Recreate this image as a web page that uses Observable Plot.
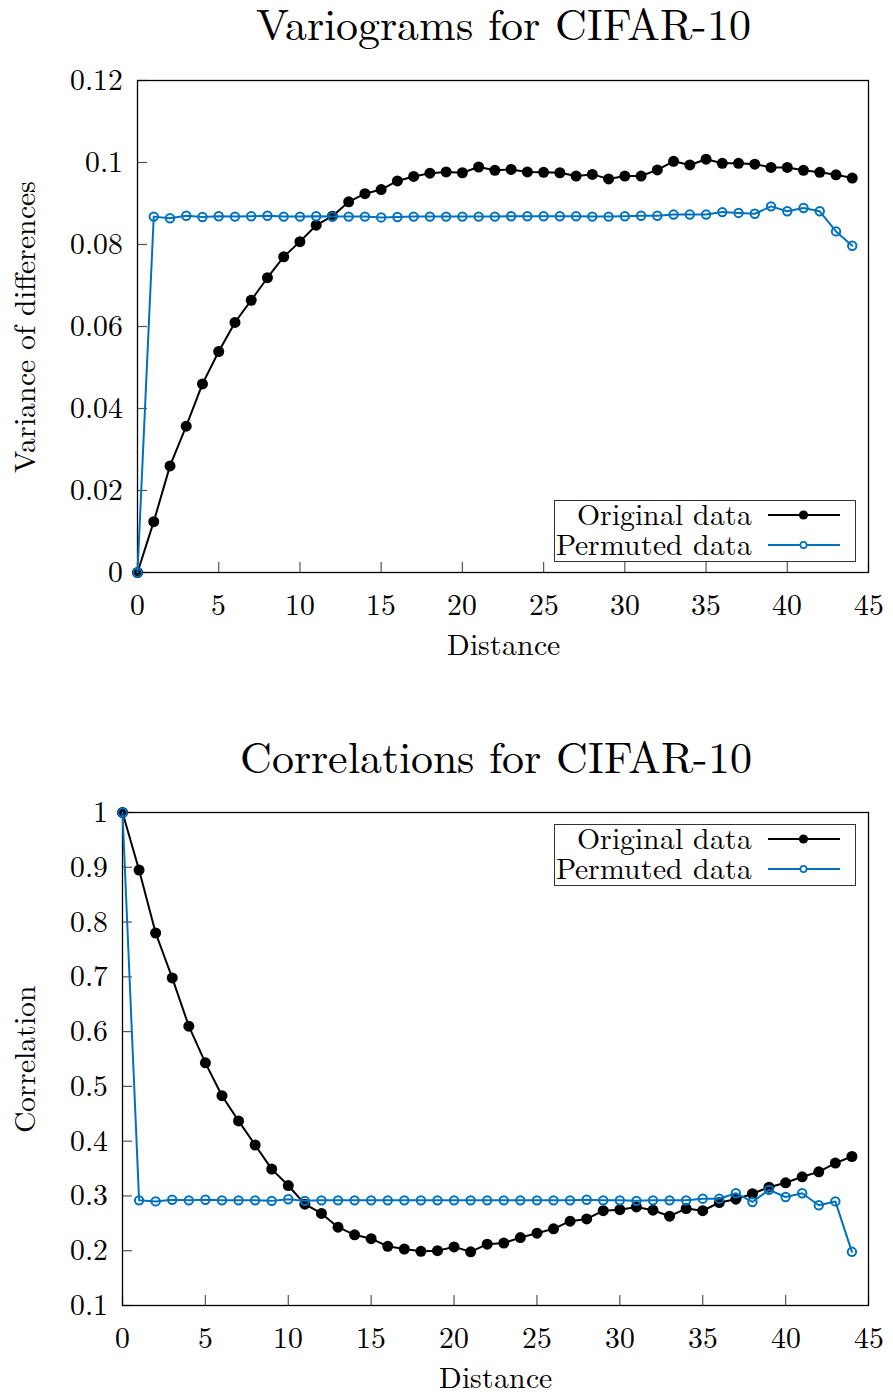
<!DOCTYPE html>
<html>
<head>
<meta charset="utf-8">
<script src="https://cdn.jsdelivr.net/npm/d3@7"></script>
<script src="https://cdn.jsdelivr.net/npm/@observablehq/plot@0.6"></script>
<style>
  @font-face {
    font-family: "LMR";
    src: local("Latin Modern Roman"), local("LMRoman10-Regular"), local("Latin Modern Roman Regular"),
         local("LM Roman 10 Regular"), local("Latin Modern Roman 10 Regular"), local("LM Roman 10");
    ascent-override: 78%;
    descent-override: 20%;
    line-gap-override: 0%;
  }
  body { margin: 0; background: #fff; font-family: "LMR", "Latin Modern Roman", serif; }
  #wrap { position: relative; width: 893px; height: 1393px; color: #000; background: #fff; overflow: hidden; }
  #wrap > svg { position: absolute; left: 0; }
</style>
</head>
<body>
<div id="wrap"></div>
<script>
// ---------- data ----------
const distance = [0,1,2,3,4,5,6,7,8,9,10,11,12,13,14,15,16,17,18,19,20,21,22,23,24,25,26,27,28,29,30,31,32,33,34,35,36,37,38,39,40,41,42,43,44];

const varianceOriginal = [0, 0.0124, 0.0260, 0.0357, 0.0460, 0.0539, 0.0610, 0.0664, 0.0719, 0.0770,
  0.0807, 0.0847, 0.0869, 0.0904, 0.0924, 0.0934, 0.0955, 0.0966, 0.0974, 0.0977,
  0.0975, 0.0989, 0.0981, 0.0983, 0.0977, 0.0976, 0.0975, 0.0967, 0.0971, 0.0960,
  0.0967, 0.0967, 0.0982, 0.1003, 0.0994, 0.1008, 0.0998, 0.0998, 0.0996, 0.0988,
  0.0988, 0.0981, 0.0976, 0.0970, 0.0962];

const variancePermuted = [0, 0.0868, 0.0864, 0.0870, 0.0867, 0.0869, 0.0868, 0.0869, 0.0870, 0.0868,
  0.0868, 0.0869, 0.0868, 0.0868, 0.0868, 0.0866, 0.0867, 0.0868, 0.0868, 0.0868,
  0.0868, 0.0868, 0.0868, 0.0869, 0.0869, 0.0869, 0.0869, 0.0869, 0.0868, 0.0868,
  0.0869, 0.0870, 0.0870, 0.0873, 0.0873, 0.0873, 0.0879, 0.0877, 0.0875, 0.0893,
  0.0881, 0.0889, 0.0881, 0.0832, 0.0797];

const correlationOriginal = [1.0, 0.895, 0.780, 0.698, 0.610, 0.543, 0.483, 0.437, 0.393, 0.349,
  0.319, 0.285, 0.268, 0.243, 0.229, 0.222, 0.208, 0.203, 0.199, 0.200,
  0.207, 0.198, 0.212, 0.214, 0.224, 0.232, 0.240, 0.254, 0.258, 0.273,
  0.275, 0.280, 0.274, 0.263, 0.277, 0.273, 0.288, 0.294, 0.304, 0.316,
  0.324, 0.335, 0.344, 0.360, 0.372];

const correlationPermuted = [1.0, 0.292, 0.290, 0.293, 0.292, 0.293, 0.292, 0.292, 0.292, 0.291,
  0.294, 0.291, 0.292, 0.292, 0.292, 0.292, 0.292, 0.292, 0.292, 0.292,
  0.292, 0.292, 0.292, 0.292, 0.292, 0.292, 0.292, 0.292, 0.293, 0.292,
  0.292, 0.291, 0.292, 0.292, 0.292, 0.295, 0.295, 0.305, 0.289, 0.311,
  0.298, 0.305, 0.283, 0.290, 0.198];

const xTicks = [0, 5, 10, 15, 20, 25, 30, 35, 40, 45];
const varianceTicks = [0, 0.02, 0.04, 0.06, 0.08, 0.1, 0.12];
const correlationTicks = [0.1, 0.2, 0.3, 0.4, 0.5, 0.6, 0.7, 0.8, 0.9, 1];

const seriesNames = ["Original data", "Permuted data"];
const titles = ["Variograms for CIFAR-10", "Correlations for CIFAR-10"];
const yLabels = ["Variance of differences", "Correlation"];
const xLabel = "Distance";

// ---------- styles ----------
const BLACK = "#000000";
const BLUE = "#0072BD";
const FONT = "\"LMR\", \"Latin Modern Roman\", \"Liberation Serif\", serif";
const W = 893;

function makeChart({orig, perm, yDomain, yTicks, yLabel, title, titleDy, marginLeft, marginTop, marginBottom, height, yLabelDx}) {
  const marginRight = 25;
  const frameW = W - marginLeft - marginRight;
  const frameH = height - marginTop - marginBottom;
  const data = distance.map((d, i) => ({d, o: orig[i], p: perm[i]}));
  return Plot.plot({
    width: W,
    height,
    marginLeft, marginRight, marginTop, marginBottom,
    style: {fontFamily: FONT, fontSize: "29.7px", color: "#000", background: "transparent", overflow: "visible"},
    x: {domain: [0, 45], axis: null},
    y: {domain: yDomain, axis: null},
    marks: [
      Plot.axisX(xTicks, {tickSize: 0, tickPadding: 21, tickFormat: d => String(d), label: null, fontFamily: FONT}),
      Plot.axisY(yTicks, {tickSize: 0, tickPadding: 15, tickFormat: d => String(d), label: null, fontFamily: FONT}),
      Plot.tickX(xTicks, {x: d => d, insetTop: frameH - 10, stroke: "#555", strokeWidth: 1.2}),
      Plot.tickY(yTicks, {y: d => d, insetRight: frameW - 10, stroke: "#555", strokeWidth: 1.2}),
      Plot.frame({stroke: "#000", strokeWidth: 1.3}),
      Plot.line(data, {x: "d", y: "o", stroke: BLACK, strokeWidth: 2}),
      Plot.dot(data, {x: "d", y: "o", r: 5.5, fill: BLACK, stroke: "none"}),
      Plot.line(data, {x: "d", y: "p", stroke: BLUE, strokeWidth: 2}),
      Plot.dot(data, {x: "d", y: "p", r: 4.2, fill: "none", stroke: BLUE, strokeWidth: 2}),
      Plot.text([title], {frameAnchor: "top", dy: titleDy, textAnchor: "middle", lineAnchor: "middle", text: d => d, fontSize: 44, fontFamily: FONT}),
      Plot.text([xLabel], {frameAnchor: "bottom", dy: 73, textAnchor: "middle", lineAnchor: "middle", text: d => d, fontSize: 29.7, fontFamily: FONT}),
      Plot.text([yLabel], {frameAnchor: "left", dx: yLabelDx, rotate: -90, textAnchor: "middle", lineAnchor: "middle", text: d => d, fontSize: 29.7, fontFamily: FONT})
    ]
  });
}

function addLegend(parent, left, top) {
  const svg = d3.create("svg")
    .attr("width", 302).attr("height", 62)
    .style("top", top + "px").style("left", left + "px")
    .style("position", "absolute").style("overflow", "visible");
  svg.append("rect").attr("x", 0.5).attr("y", 0.5).attr("width", 301).attr("height", 61)
    .attr("fill", "#fff").attr("stroke", "#333").attr("stroke-width", 1);
  const rows = [[seriesNames[0], BLACK, true], [seriesNames[1], BLUE, false]];
  rows.forEach(([name, color, filled], i) => {
    const cy = 15 + i * 30;
    svg.append("text").attr("x", 198).attr("y", cy).attr("dy", "0.32em")
      .attr("text-anchor", "end").attr("font-size", 29.7).attr("font-family", FONT).attr("fill", "#000")
      .text(name);
    svg.append("line").attr("x1", 214).attr("x2", 286).attr("y1", cy).attr("y2", cy)
      .attr("stroke", color).attr("stroke-width", 2);
    const c = svg.append("circle").attr("cx", 249.5).attr("cy", cy);
    if (filled) c.attr("r", 4.6).attr("fill", color);
    else c.attr("r", 3.1).attr("fill", "#fff").attr("stroke", color).attr("stroke-width", 1.7);
  });
  parent.appendChild(svg.node());
}

const wrap = document.getElementById("wrap");

// Chart 1: variograms (frame 80..572)
const c1 = makeChart({orig: varianceOriginal, perm: variancePermuted, yDomain: [0, 0.12], yTicks: varianceTicks,
  yLabel: yLabels[0], title: titles[0], titleDy: -55,
  marginLeft: 137, marginTop: 80, marginBottom: 98, height: 670, yLabelDx: -112});
c1.style.top = "0px";
wrap.appendChild(c1);
addLegend(wrap, 554, 500);

// Chart 2: correlations (frame 812..1305)
const c2 = makeChart({orig: correlationOriginal, perm: correlationPermuted, yDomain: [0.1, 1], yTicks: correlationTicks,
  yLabel: yLabels[1], title: titles[1], titleDy: -54,
  marginLeft: 122, marginTop: 112, marginBottom: 88, height: 693, yLabelDx: -97});
c2.style.top = "700px";
wrap.appendChild(c2);
addLegend(wrap, 554, 824);
</script>
</body>
</html>
